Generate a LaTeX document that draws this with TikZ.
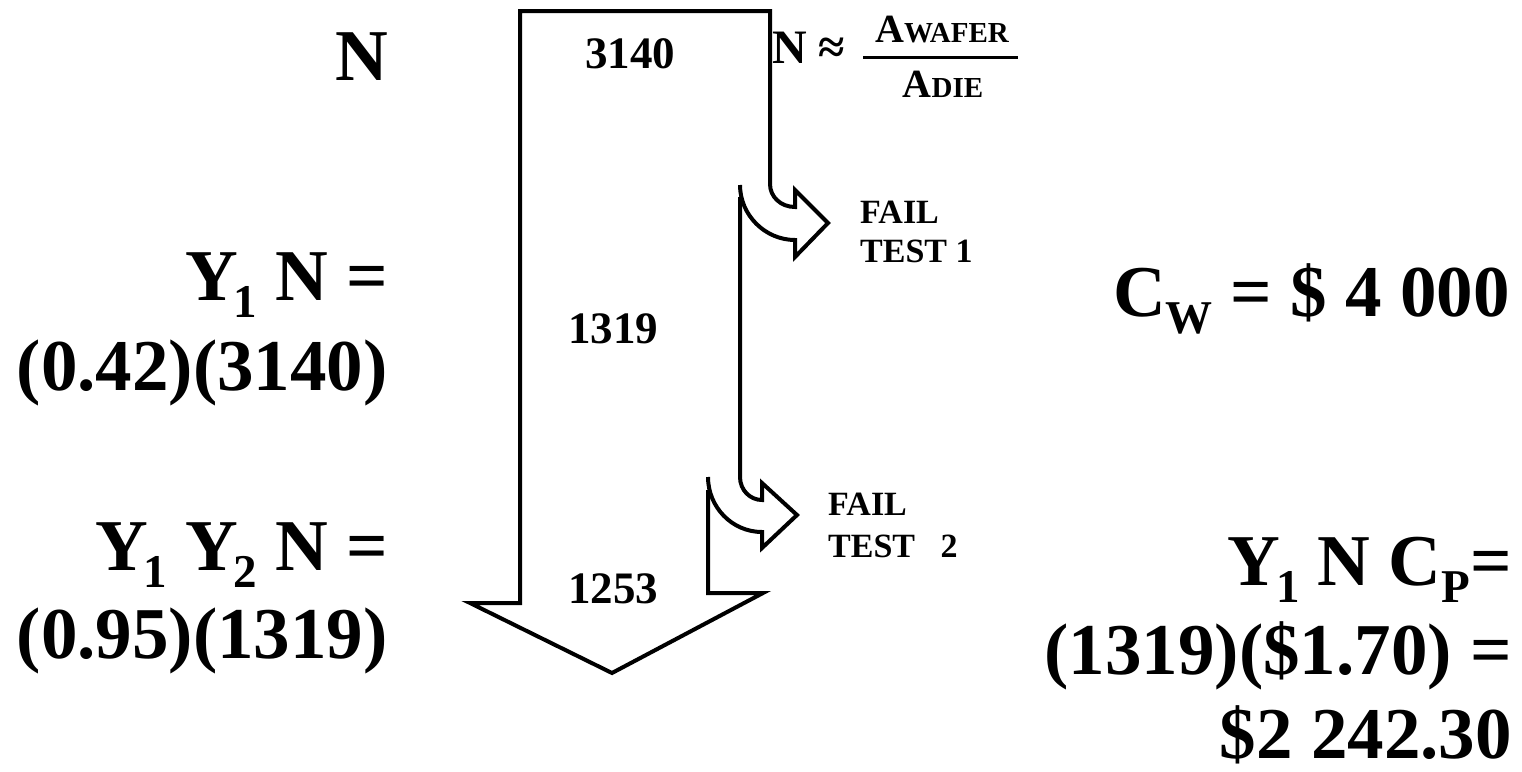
\documentclass[tikz,border=0pt]{standalone}
\usepackage{fontspec}
\setmainfont{Liberation Serif}
\usetikzlibrary{positioning}

\newcommand{\idx}[1]{\raisebox{-17pt}{\fontsize{47}{47}\selectfont #1}}

\tikzset{
  bigtext/.style={font=\fontsize{73}{88}\selectfont\bfseries, inner sep=0pt},
  midnum/.style={font=\fontsize{45}{54}\selectfont\bfseries, inner sep=0pt},
  failtext/.style={font=\fontsize{34}{39}\selectfont\bfseries, inner sep=0pt},
  fractext/.style={font=\bfseries, inner sep=0pt},
  outline/.style={line width=4pt, line join=miter}
}

\begin{document}
\begin{tikzpicture}[x=1pt, y=-1pt]
  \useasboundingbox (0,0) rectangle (1522,771);

  %% Flow arrow: head, shaft and first reject branch
  \draw[outline] (708,490) -- (708,593) -- (763,593) -- (612,673) -- (470,603)
    -- (520,603) -- (520,11) -- (770,11) -- (770,184)
    .. controls (770,197) and (781,207) .. (795,207) -- (795,190) -- (828,223)
    -- (795,257) -- (795,240) .. controls (765,240) and (740,215) .. (740,185);

  %% Second reject branch
  \draw[outline] (740,197) -- (740,477)
    .. controls (740,490) and (750,500) .. (762,500) -- (762,483) -- (797,515)
    -- (762,548) -- (762,532) .. controls (732,532) and (708,507) .. (708,477);

  %% Counts inside the arrow
  \node[midnum, anchor=base] (count0) at (630,68) {3140};
  \node[midnum, anchor=base] (count1) at (613,343) {1319};
  \node[midnum, anchor=base] (count2) at (613,603) {1253};

  %% Die estimate
  \node[fractext, font=\fontsize{48}{48}\selectfont\bfseries, anchor=base west] (napprox) at (772,63) {N ≈};
  \node[fractext, anchor=base] (awafer) at (942,42) {{\fontsize{40}{40}\selectfont A}{\fontsize{29}{29}\selectfont WAFER}};
  \node[fractext, anchor=base] (adie) at (943,97) {{\fontsize{40}{40}\selectfont A}{\fontsize{29}{29}\selectfont DIE}};
  \draw[line width=3pt] (863,57) -- (1018,57);

  %% Test labels
  \node[failtext, anchor=base west] (fail1) at (860,223) {FAIL};
  \node[failtext, anchor=base west] (test1) at (860,262) {TEST 1};
  \node[failtext, anchor=base west] (fail2) at (828,515) {FAIL};
  \node[failtext, anchor=base west] (test2) at (828,557) {TEST~~~2};

  %% Left column
  \node[bigtext, anchor=base east] (nleft) at (388,80) {N};
  \node[bigtext, anchor=base east] (yn) at (388,300) {Y\kern-0.06em\idx{1} N =};
  \node[bigtext, anchor=base east] (ynval) at (388,390) {(0.42)(3140)};
  \node[bigtext, anchor=base east] (yyn) at (388,570) {Y\kern-0.06em\idx{1} Y\kern-0.06em\idx{2} N =};
  \node[bigtext, anchor=base east] (yynval) at (388,658) {(0.95)(1319)};

  %% Right column
  \node[bigtext, anchor=base east] (cw) at (1510,316) {C\idx{W} = \$ 4 000};
  \node[bigtext, anchor=base east] (ync) at (1512,585) {Y\kern-0.06em\idx{1} N C\idx{P}=};
  \node[bigtext, anchor=base east] (yncval) at (1512,674) {(1319)(\$1.70) =};
  \node[bigtext, anchor=base east] (cost) at (1512,758) {\$2 242.30};
\end{tikzpicture}
\end{document}
